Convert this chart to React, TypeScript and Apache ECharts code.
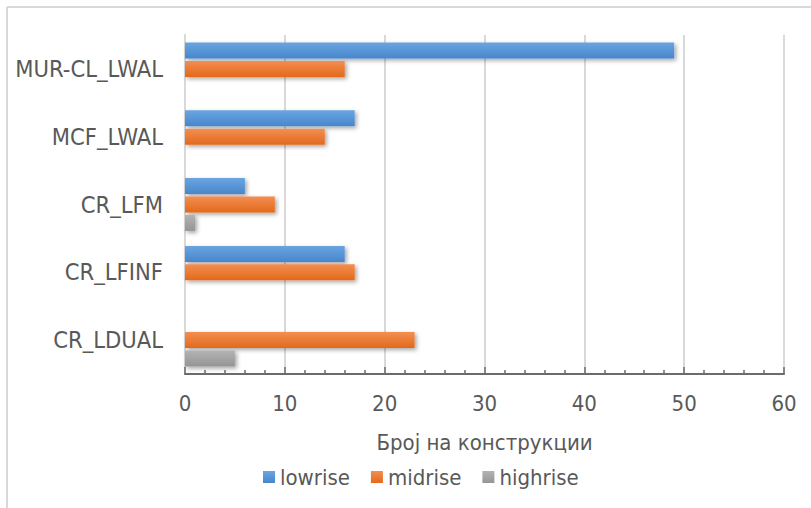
import React, { useEffect, useRef } from "react";
import * as echarts from "echarts";

const categories = ["CR_LDUAL", "CR_LFINF", "CR_LFM", "MCF_LWAL", "MUR-CL_LWAL"];
const lowrise = [0, 16, 6, 17, 49];
const midrise = [23, 17, 9, 14, 16];
const highrise = [5, 0, 1, 0, 0];
const seriesNames = ["lowrise", "midrise", "highrise"];
const xTicks = { min: 0, max: 60, interval: 10 };
const axisTitle = "Број на конструкции";

const FONT = "DejaVu Sans Condensed";

function grad(top: string, bottom: string) {
  return new echarts.graphic.LinearGradient(0, 0, 0, 1, [
    { offset: 0, color: top },
    { offset: 1, color: bottom },
  ]);
}

export default function App() {
  const ref = useRef<HTMLDivElement>(null);
  useEffect(() => {
    if (!ref.current) return;
    const chart = echarts.init(ref.current, null, { renderer: "svg" });
    const shadow = {
      shadowBlur: 4,
      shadowOffsetX: 2,
      shadowOffsetY: 2,
      shadowColor: "rgba(0,0,0,0.35)",
    };
    const colors = [
      grad("#6aa5e0", "#4886cc"),
      grad("#f38e52", "#e3691a"),
      grad("#b3b3b3", "#959595"),
    ];
    const legendColors = [grad("#6aa5e0", "#4886cc"), grad("#f38e52", "#e3691a"), grad("#b3b3b3", "#959595")];
    const dataSets = [lowrise, midrise, highrise];
    chart.setOption({
      animation: false,
      textStyle: { fontFamily: FONT },
      graphic: [
        {
          type: "line",
          shape: { x1: 7, y1: 7, x2: 811, y2: 7 },
          style: { stroke: "#d9d9d9", lineWidth: 2 },
        },
        {
          type: "line",
          shape: { x1: 7, y1: 7, x2: 7, y2: 508 },
          style: { stroke: "#d9d9d9", lineWidth: 2 },
        },
      ],
      grid: { left: 185, right: 27, top: 35, bottom: 134, containLabel: false },
      legend: {
        top: 461,
        left: 258,
        itemWidth: 12,
        itemHeight: 12,
        itemGap: 21,
        icon: "rect",
        textStyle: { fontFamily: FONT, fontSize: 22, color: "#595959" },
        data: seriesNames.map((n, i) => ({ name: n, itemStyle: { color: legendColors[i] } })),
      },
      xAxis: {
        type: "value",
        min: xTicks.min,
        max: xTicks.max,
        interval: xTicks.interval,
        name: axisTitle,
        nameLocation: "middle",
        nameGap: 57,
        nameTextStyle: { fontFamily: FONT, fontSize: 22, color: "#595959" },
        axisLine: { show: true, lineStyle: { color: "#6b6b6b", width: 2 } },
        axisTick: { show: true, inside: true, length: 7, lineStyle: { color: "#6b6b6b", width: 1.5 } },
        minorTick: { show: true, splitNumber: 5, length: 4, lineStyle: { color: "#6b6b6b", width: 1.5 } },
        axisLabel: { fontFamily: FONT, fontSize: 22, color: "#595959", margin: 18 },
        splitLine: { show: true, lineStyle: { color: "#d9d9d9", width: 2 } },
      },
      yAxis: {
        type: "category",
        data: categories,
        axisLine: { show: true, lineStyle: { color: "#d9d9d9", width: 2 } },
        axisTick: { show: false },
        axisLabel: { fontFamily: FONT, fontSize: 23.5, color: "#595959", margin: 22 },
      },
      series: seriesNames.map((n, i) => ({
        name: n,
        type: "bar",
        data: dataSets[i],
        barWidth: 16,
        barGap: "15%",
        itemStyle: { color: colors[i], ...shadow },
      })),
    });
    return () => chart.dispose();
  }, []);
  return <div ref={ref} style={{ width: 811, height: 508, position: "absolute", left: 0, top: 0 }} />;
}
